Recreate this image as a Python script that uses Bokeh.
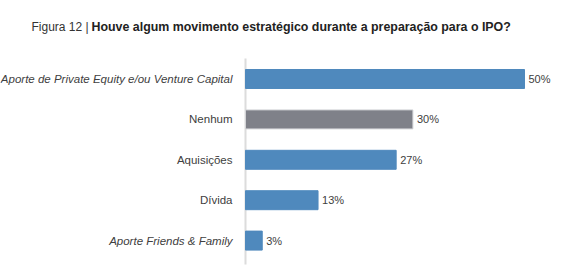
from bokeh.plotting import figure
from bokeh.models import ColumnDataSource, Range1d, Label
from bokeh.core.properties import value
from bokeh.embed import file_html
from bokeh.resources import INLINE

# Survey answers and their shares (%)
categories = [
    "Aporte de Private Equity e/ou Venture Capital",
    "Nenhum",
    "Aquisições",
    "Dívida",
    "Aporte Friends & Family",
]
values = [50, 30, 27, 13, 3]
label_styles = ["italic", "normal", "normal", "normal", "italic"]
value_labels = [f"{v}%" for v in values]

BLUE = "#4f89bd"
GREY = "#7f8189"
bar_colors = [GREY if c == "Nenhum" else BLUE for c in categories]
bar_lines = ["#d2d3d6" if c == "Nenhum" else BLUE for c in categories]

W, H = 576, 275
x0_px = 245          # pixel column of the zero line
px_per_unit = 5.58   # horizontal pixels per percentage point
row_px = 40.4        # vertical pitch of the rows
first_row_px = 78.5  # centre of the first row from the top

FONT = "Liberation Sans"

source = ColumnDataSource(dict(
    y=list(range(len(categories))),
    cat=categories,
    val=values,
    style=label_styles,
    txt=value_labels,
    color=bar_colors,
    line=bar_lines,
))

x_range = Range1d(-x0_px / px_per_unit, (W - x0_px) / px_per_unit)
top = -first_row_px / row_px
y_range = Range1d(top + H / row_px, top)  # inverted: first answer on top

p = figure(width=W, height=H, x_range=x_range, y_range=y_range,
           output_backend="svg", toolbar_location=None,
           min_border=0, outline_line_color=None, background_fill_color="white")
p.axis.visible = False
p.grid.visible = False

# zero line
p.segment(x0=[0], y0=[-0.51], x1=[0], y1=[len(categories) - 1 + 0.59],
          line_color="#dcdcdc", line_width=2)

p.hbar(y="y", left=0, right="val", height=0.47, source=source,
       fill_color="color", line_color="line", line_width=1)

p.text(x=0, y="y", text="cat", source=source, x_offset=-13,
       text_align="right", text_baseline="middle",
       text_font_size="11.5px", text_font_style="style",
       text_color="#404040", text_font=value(FONT))

p.text(x="val", y="y", text="txt", source=source, x_offset=4,
       text_align="left", text_baseline="middle",
       text_font_size="11px", text_color="#404040",
       text_font=value(FONT))

p.add_layout(Label(x=31, y=H - 26, x_units="screen", y_units="screen",
                   text="Figura 12 |", text_font=FONT,
                   text_font_size="12px", text_color="#333333",
                   text_baseline="alphabetic"))
p.add_layout(Label(x=91, y=H - 26, x_units="screen", y_units="screen",
                   text="Houve algum movimento estratégico durante a preparação para o IPO?",
                   text_font=FONT, text_font_style="bold",
                   text_font_size="12.4px", text_color="#222222",
                   text_baseline="alphabetic"))

open("out.html", "w").write(file_html(p, INLINE))
